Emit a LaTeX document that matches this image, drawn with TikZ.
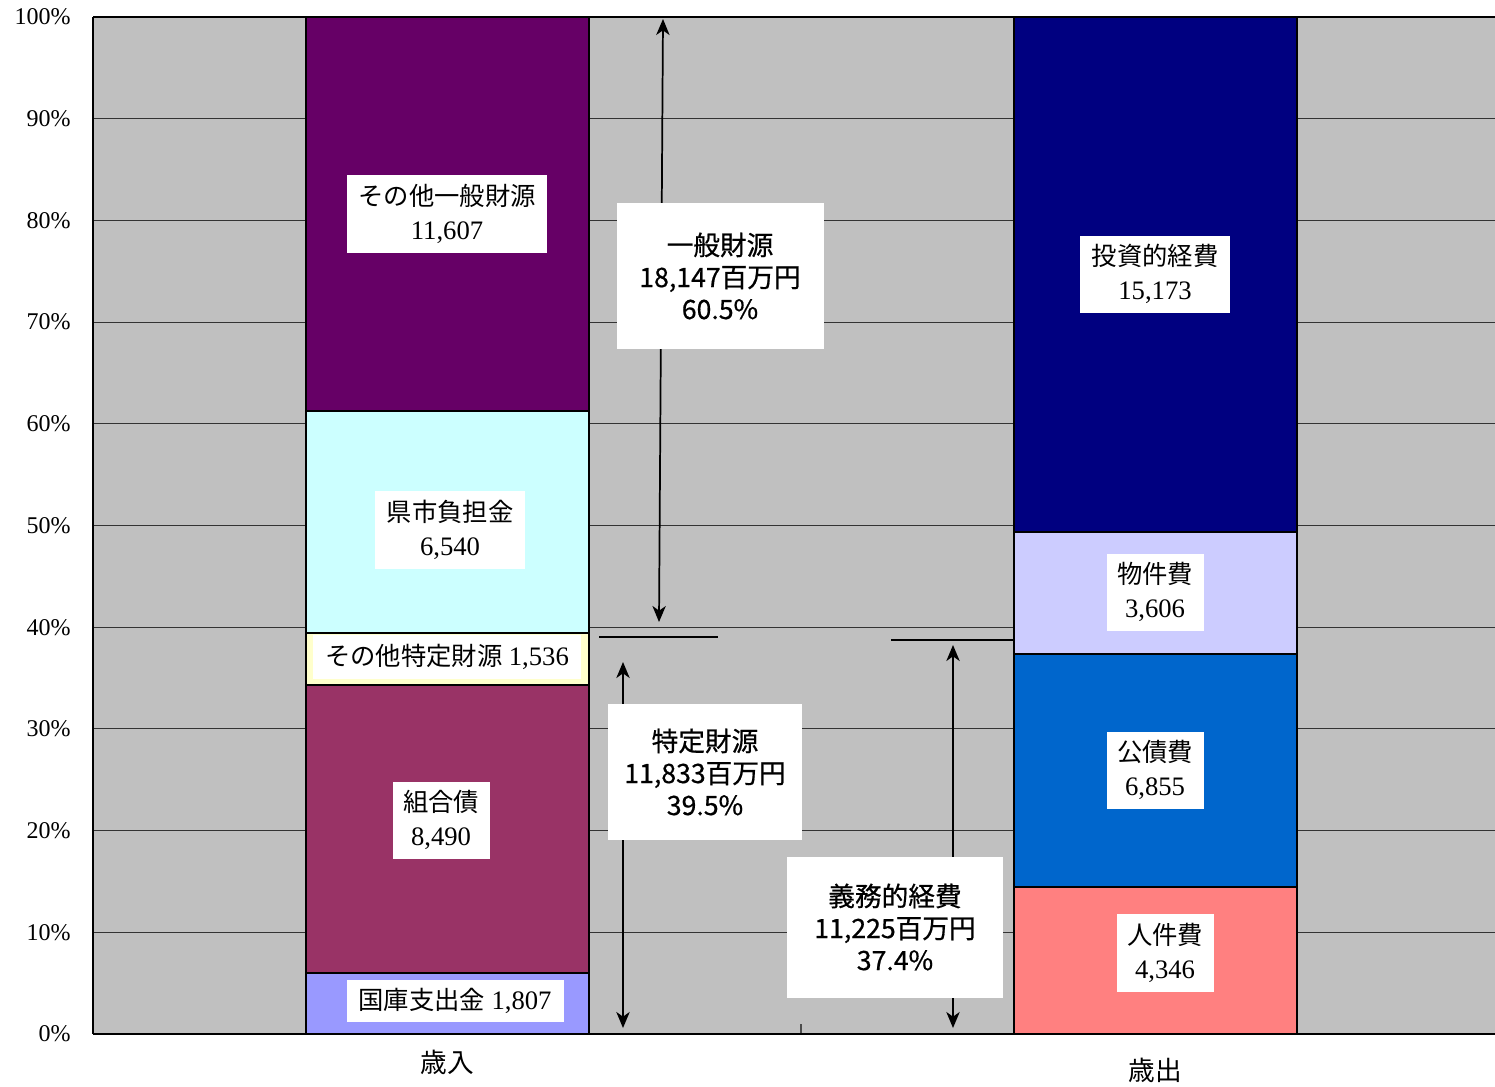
\documentclass[tikz,border=0pt]{standalone}
\usepackage{fontspec}
\setmainfont{Liberation Serif}
\newfontfamily\jp{Noto Sans CJK JP}
\newfontfamily\jpsemi[FakeBold=0.6]{Noto Sans CJK JP}
\usetikzlibrary{arrows.meta}
\definecolor{plotgray}{HTML}{C0C0C0}
\definecolor{cOtherGen}{HTML}{660066}
\definecolor{cKenshi}{HTML}{CCFFFF}
\definecolor{cOtherSpec}{HTML}{FFFFCC}
\definecolor{cKumiai}{HTML}{993366}
\definecolor{cKokko}{HTML}{9999FF}
\definecolor{cToushi}{HTML}{000080}
\definecolor{cBukken}{HTML}{CCCCFF}
\definecolor{cKousai}{HTML}{0066CC}
\definecolor{cJinken}{HTML}{FF8080}
\newcommand{\numf}{\fontsize{20}{26}\selectfont}
\tikzset{
  gridline/.style={draw=black!80, line width=0.8pt},
  axisline/.style={draw=black, line width=1.5pt},
  barseg/.style={draw=black, line width=1.5pt},
  seglabel/.style={fill=white, inner sep=0pt, align=center, font=\fontsize{19}{26}\selectfont},
  annot/.style={fill=white, inner sep=0pt, align=center, font=\jpsemi\fontsize{20}{24}\selectfont},
  ylab/.style={anchor=east, inner sep=0pt, font=\fontsize{18}{20}\selectfont},
  catlab/.style={inner sep=0pt, font=\jp\fontsize{20}{22}\selectfont},
  dimarrow/.style={draw=black, line width=1.3pt, {Stealth[length=12pt,width=10pt,inset=3.5pt]}-{Stealth[length=12pt,width=10pt,inset=3.5pt]}},
  refline/.style={draw=black, line width=1.3pt},
}
\begin{document}
\begin{tikzpicture}[x=0.75pt,y=-0.75pt]
\useasboundingbox (0,0) rectangle (1495,1086);
% plot area
\fill[plotgray] (93,17) rectangle (1495,1034);
\foreach \k in {1,...,9} {
  \draw[gridline] (93,{1034-101.7*\k}) -- (1495,{1034-101.7*\k});
}
\draw[draw=black!70, line width=0.8pt] (801,1024) -- (801,1034);
% y labels
\foreach \k/\t in {0/0,1/10,2/20,3/30,4/40,5/50,6/60,7/70,8/80,9/90,10/100} {
  \node[ylab] (y\k) at (71,{1034-101.7*\k}) {\t\%};
}
% left bar (revenue)
\draw[barseg, fill=cKokko]     (306,1034) rectangle (589,972.7);
\draw[barseg, fill=cKumiai]    (306,972.7) rectangle (589,684.7);
\draw[barseg, fill=cOtherSpec] (306,684.7) rectangle (589,632.6);
\draw[barseg, fill=cKenshi]    (306,632.6) rectangle (589,410.7);
\draw[barseg, fill=cOtherGen]  (306,410.7) rectangle (589,17);
% right bar (expenditure)
\draw[barseg, fill=cJinken]  (1014,1034) rectangle (1297,886.6);
\draw[barseg, fill=cKousai]  (1014,886.6) rectangle (1297,654);
\draw[barseg, fill=cBukken]  (1014,654) rectangle (1297,531.7);
\draw[barseg, fill=cToushi]  (1014,531.7) rectangle (1297,17);
% axes
\draw[axisline] (93,17) -- (1495,17);
\draw[axisline] (93,17) -- (93,1034);
\draw[axisline] (93,1034) -- (1495,1034);
% segment labels
\node[seglabel, minimum width=150pt, minimum height=58.5pt] (lOtherGen) at (447,214) {{\jp その他一般財源}\\{\numf 11,607}};
\node[seglabel, minimum width=112.5pt, minimum height=58.5pt] (lKenshi) at (450,530) {{\jp 県市負担金}\\{\numf 6,540}};
\node[seglabel, minimum width=201pt, minimum height=33pt] (lOtherSpec) at (447,657) {{\jp その他特定財源} {\numf 1,536}};
\node[seglabel, minimum width=72.75pt, minimum height=57.75pt] (lKumiai) at (441,820) {{\jp 組合債}\\{\numf 8,490}};
\node[seglabel, minimum width=162.75pt, minimum height=31.5pt] (lKokko) at (455,1001) {{\jp 国庫支出金} {\numf 1,807}};
\node[seglabel, minimum width=112.5pt, minimum height=57.75pt] (lToushi) at (1155,274) {{\jp 投資的経費}\\{\numf 15,173}};
\node[seglabel, minimum width=72.75pt, minimum height=57.75pt] (lBukken) at (1155,592) {{\jp 物件費}\\{\numf 3,606}};
\node[seglabel, minimum width=72.75pt, minimum height=57.75pt] (lKousai) at (1155,770) {{\jp 公債費}\\{\numf 6,855}};
\node[seglabel, minimum width=72.75pt, minimum height=58.5pt] (lJinken) at (1165,953) {{\jp 人件費}\\{\numf 4,346}};
% dimension lines
\coordinate (gTop) at (663,19);
\coordinate (gBot) at (659,622);
\coordinate (sTop) at (623,662);
\coordinate (sBot) at (623,1028);
\coordinate (dTop) at (953,645);
\coordinate (dBot) at (953,1028);
\coordinate (r1a) at (599,637);
\coordinate (r1b) at (718,637);
\coordinate (r2a) at (891,640);
\coordinate (r2b) at (1014,640);
\draw[dimarrow] (gTop) -- (gBot);
\draw[dimarrow] (sTop) -- (sBot);
\draw[dimarrow] (dTop) -- (dBot);
\draw[refline] (r1a) -- (r1b);
\draw[refline] (r2a) -- (r2b);
% annotation boxes
\node[annot, minimum width=155.25pt, minimum height=109.5pt] (aGen) at (720,276) {一般財源\\18,147百万円\\60.5\%};
\node[annot, minimum width=145.5pt, minimum height=102pt] (aSpec) at (705,772) {特定財源\\11,833百万円\\39.5\%};
\node[annot, minimum width=162pt, minimum height=105.75pt] (aDuty) at (895,927) {義務的経費\\11,225百万円\\37.4\%};
% category labels
\node[catlab] (cIn) at (447,1062) {歳入};
\node[catlab] (cOut) at (1155,1070) {歳出};
\end{tikzpicture}
\end{document}
